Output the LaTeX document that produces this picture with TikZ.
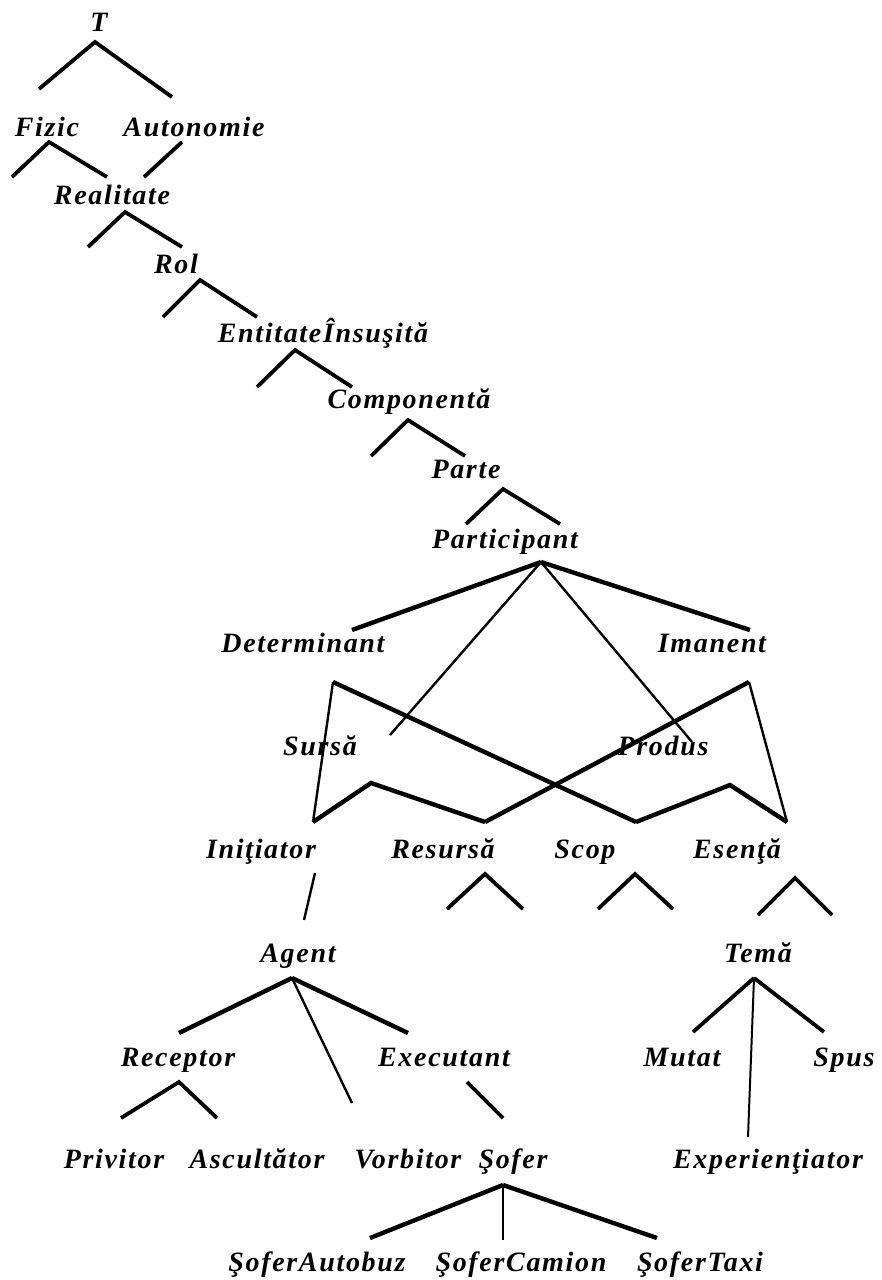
\documentclass[tikz,border=0pt]{standalone}
\usepackage{fontspec}
\setmainfont{Liberation Serif}
\begin{document}
\begin{tikzpicture}[x=1pt,y=-1pt,
  lbl/.style={font=\bfseries\itshape\fontsize{28}{30}\selectfont\addfontfeature{LetterSpace=6},
              inner sep=0pt, anchor=base},
  heavy/.style={line width=4.4pt},
  caret/.style={line width=3.8pt},
  light/.style={line width=2.4pt},
  hair/.style={line width=2pt}]
\path[fill=white] (0,0) rectangle (882,1280);

% ---------- labels ----------
\node[lbl] (T)      at (99,31)   {T};
\node[lbl] (Fizic)  at (47,136)  {Fizic};
\node[lbl] (Auton)  at (194,136) {Autonomie};
\node[lbl] (Real)   at (112,204) {Realitate};
\node[lbl] (Rol)    at (176,273) {Rol};
\node[lbl] (Ent)    at (323,342) {EntitateÎnsuşită};
\node[lbl] (Comp)   at (409,408) {Componentă};
\node[lbl] (Parte)  at (466,478) {Parte};
\node[lbl] (Part)   at (505,548) {Participant};
\node[lbl] (Det)    at (303,652) {Determinant};
\node[lbl] (Iman)   at (712,652) {Imanent};
\node[lbl] (Sursa)  at (320,755) {Sursă};
\node[lbl] (Produs) at (663,755) {Produs};
\node[lbl] (Init)   at (261,858) {Iniţiator};
\node[lbl] (Res)    at (443,858) {Resursă};
\node[lbl] (Scop)   at (585,858) {Scop};
\node[lbl] (Esen)   at (737,858) {Esenţă};
\node[lbl] (Agent)  at (298,962) {Agent};
\node[lbl] (Tema)   at (758,962) {Temă};
\node[lbl] (Recep)  at (178,1066) {Receptor};
\node[lbl] (Exec)   at (444,1066) {Executant};
\node[lbl] (Mutat)  at (682,1066) {Mutat};
\node[lbl] (Spus)   at (844,1066) {Spus};
\node[lbl] (Priv)   at (114,1168) {Privitor};
\node[lbl] (Asc)    at (257,1168) {Ascultător};
\node[lbl] (Vorb)   at (408,1168) {Vorbitor};
\node[lbl] (Sofer)  at (513,1168) {Şofer};
\node[lbl] (Exper)  at (768,1168) {Experienţiator};
\node[lbl] (SAut)   at (317,1271) {ŞoferAutobuz};
\node[lbl] (SCam)   at (521,1271) {ŞoferCamion};
\node[lbl] (STaxi)  at (700,1271) {ŞoferTaxi};

% ---------- branch points ----------
\coordinate (aT) at (95,42);
\coordinate (eFizic) at (39,89);   \coordinate (eAuton) at (172,97);
\coordinate (aFizic) at (49,142);
\coordinate (eFizicL) at (12,177); \coordinate (eRealA) at (107,177);
\coordinate (aAuton) at (182,142); \coordinate (eRealB) at (144,177);
\coordinate (aReal) at (125,212);
\coordinate (eRealL) at (88,247);  \coordinate (eRol) at (182,247);
\coordinate (aRol) at (200,280);
\coordinate (eRolL) at (163,317);  \coordinate (eEnt) at (257,317);
\coordinate (aEnt) at (295,350);
\coordinate (eEntL) at (257,387);  \coordinate (eComp) at (352,387);
\coordinate (aComp) at (408,420);
\coordinate (eCompL) at (371,456); \coordinate (eParte) at (465,456);
\coordinate (aParte) at (503,489);
\coordinate (eParteL) at (466,524); \coordinate (ePart) at (560,524);
\coordinate (aPart) at (541,562);
\coordinate (eDet) at (352,630);   \coordinate (eIman) at (750,630);
\coordinate (eSursa) at (390,735); \coordinate (eProdus) at (692,742);
\coordinate (aDet) at (333,682);   \coordinate (aIman) at (749,682);
\coordinate (aSursa) at (371,783); \coordinate (aProdus) at (730,785);
\coordinate (jInit) at (313,822);  \coordinate (jRes) at (485,822);
\coordinate (jScop) at (636,822);  \coordinate (jEsen) at (787,822);
\coordinate (aInit) at (315,873);  \coordinate (eAgent) at (304,920);
\coordinate (aRes) at (485,874);
\coordinate (eResL) at (447,909);  \coordinate (eResR) at (523,909);
\coordinate (aScop) at (635,874);
\coordinate (eScopL) at (598,909); \coordinate (eScopR) at (673,909);
\coordinate (aEsen) at (795,878);
\coordinate (eEsenL) at (758,915); \coordinate (eTema) at (832,915);
\coordinate (aAgent) at (292,978);
\coordinate (eRecep) at (179,1033); \coordinate (eExec) at (408,1033);
\coordinate (eVorb) at (352,1103);
\coordinate (aTema) at (754,978);
\coordinate (eMutat) at (693,1032); \coordinate (eSpus) at (824,1032);
\coordinate (eExper) at (748,1137);
\coordinate (aRecep) at (179,1082);
\coordinate (ePriv) at (121,1118); \coordinate (eAsc) at (217,1118);
\coordinate (aExec) at (467,1082); \coordinate (eSofer) at (503,1118);
\coordinate (aSofer) at (503,1185);
\coordinate (eSAut) at (370,1238); \coordinate (eSCam) at (503,1240);
\coordinate (eSTaxi) at (657,1238);

% ---------- upper chain ----------
\draw[caret] (eFizic) -- (aT) -- (eAuton);
\draw[caret] (eFizicL) -- (aFizic) -- (eRealA);
\draw[caret] (aAuton) -- (eRealB);
\draw[caret] (eRealL) -- (aReal) -- (eRol);
\draw[caret] (eRolL) -- (aRol) -- (eEnt);
\draw[caret] (eEntL) -- (aEnt) -- (eComp);
\draw[caret] (eCompL) -- (aComp) -- (eParte);
\draw[caret] (eParteL) -- (aParte) -- (ePart);

% ---------- Participant and its crossing lattice ----------
\draw[heavy] (aPart) -- (eDet);
\draw[heavy] (aPart) -- (eIman);
\draw[light] (aPart) -- (eSursa);
\draw[light] (aPart) -- (eProdus);
\draw[light] (aDet) -- (jInit);
\draw[heavy] (aDet) -- (jScop);
\draw[heavy] (aIman) -- (jRes);
\draw[light] (aIman) -- (jEsen);
\draw[heavy] (jInit) -- (aSursa) -- (jRes);
\draw[heavy] (jScop) -- (aProdus) -- (jEsen);

% ---------- lower level ----------
\draw[light] (aInit) -- (eAgent);
\draw[caret] (eResL) -- (aRes) -- (eResR);
\draw[caret] (eScopL) -- (aScop) -- (eScopR);
\draw[caret] (eEsenL) -- (aEsen) -- (eTema);
\draw[heavy] (aAgent) -- (eRecep);
\draw[heavy] (aAgent) -- (eExec);
\draw[light] (aAgent) -- (eVorb);
\draw[caret] (aTema) -- (eMutat);
\draw[caret] (aTema) -- (eSpus);
\draw[hair] (aTema) -- (eExper);
\draw[caret] (ePriv) -- (aRecep) -- (eAsc);
\draw[caret] (aExec) -- (eSofer);
\draw[heavy] (aSofer) -- (eSAut);
\draw[hair] (aSofer) -- (eSCam);
\draw[heavy] (aSofer) -- (eSTaxi);
\end{tikzpicture}
\end{document}
